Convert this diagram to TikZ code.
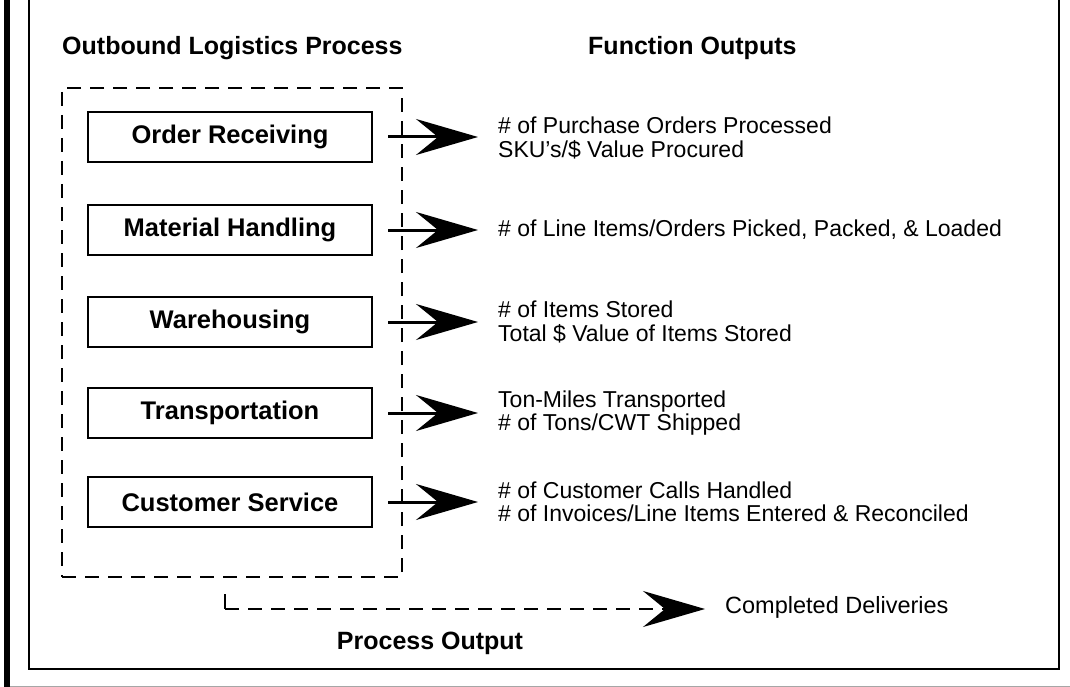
\documentclass[tikz,border=0pt]{standalone}
\usepackage{fontspec}
\setmainfont{Liberation Sans}
\usetikzlibrary{arrows.meta}
\begin{document}
\begin{tikzpicture}[x=1pt,y=-1pt,
  procbox/.style={draw, line width=2.5pt, minimum width=284pt, minimum height=50pt, inner sep=0pt, font=\bfseries\fontsize{25.5}{28}\selectfont},
  outtxt/.style={anchor=west, align=left, inner sep=0pt, font=\fontsize{23}{23.5}\selectfont},
  headtxt/.style={anchor=west, inner sep=0pt, font=\bfseries\fontsize{25}{28}\selectfont},
  bigarrow/.style={line width=3pt, -{Stealth[length=62pt,width=36pt,inset=22pt]}},
  dashline/.style={line width=2pt, dash pattern=on 14pt off 9pt}]
\useasboundingbox (0,0) rectangle (1070,687);
% frame
\draw[line width=6pt] (7,0) -- (7,687);
\draw[line width=2.5pt] (29,0) -- (29,669) -- (1059,669) -- (1059,0);
\draw[line width=1pt, black!35] (10,686) -- (1070,686);
% headings
\node[headtxt] (h1) at (62,48) {Outbound Logistics Process};
\node[headtxt] (h2) at (588,48) {Function Outputs};
% dashed group
\node[draw, dashline, minimum width=340pt, minimum height=489pt, inner sep=0pt] (grp) at (232,332.5) {};
% process boxes
\node[procbox] (b1) at (230,137) {Order Receiving};
\node[procbox] (b2) at (230,230) {Material Handling};
\node[procbox] (b3) at (230,322) {Warehousing};
\node[procbox] (b4) at (230,413) {Transportation};
\node[procbox] (b5) at (230,502) {Customer Service};
% outputs
\node[outtxt] (o1) at (498,138) {\# of Purchase Orders Processed\\SKU's/\$ Value Procured};
\node[outtxt] (o2) at (498,230) {\# of Line Items/Orders Picked, Packed, \& Loaded};
\node[outtxt] (o3) at (498,322) {\# of Items Stored\\Total \$ Value of Items Stored};
\node[outtxt] (o4) at (498,413) {Ton-Miles Transported\\\# of Tons/CWT Shipped};
\node[outtxt] (o5) at (498,502) {\# of Customer Calls Handled\\\# of Invoices/Line Items Entered \& Reconciled};
% arrows
\foreach \i in {1,...,5}{
  \draw[bigarrow] ([xshift=15pt]b\i.east) -- ([xshift=-20pt]b\i.east -| o\i.west);
}
% process output
\node[anchor=west, inner sep=0pt, font=\fontsize{23.5}{26}\selectfont] (cd) at (725,607) {Completed Deliveries};
\node[inner sep=0pt, font=\bfseries\fontsize{25}{28}\selectfont] (po) at (430,643) {Process Output};
\coordinate (p0) at ([xshift=-7pt,yshift=-16pt]grp.south);
\coordinate (p1) at ([yshift=-31pt]grp.south -| p0);
\draw[line width=2pt] (p0) -- (p1);
\draw[dashline, -{Stealth[length=62pt,width=36pt,inset=22pt]}] (p1) -- ([xshift=-20pt]p1 -| cd.west);
\end{tikzpicture}
\end{document}
